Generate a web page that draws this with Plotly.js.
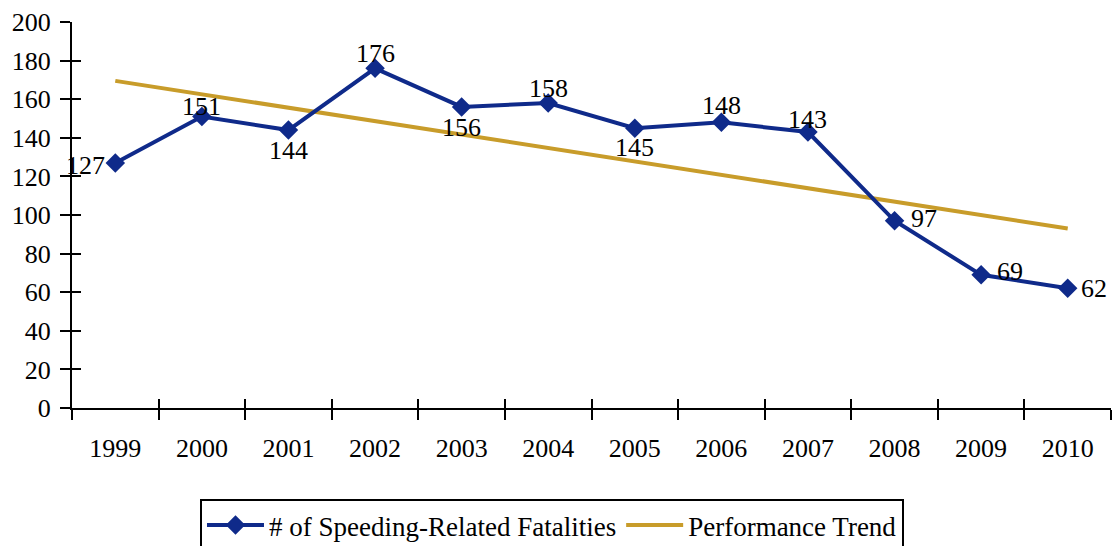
<!DOCTYPE html>
<html>
<head>
<meta charset="utf-8">
<script src="https://cdn.plot.ly/plotly-3.0.1.min.js"></script>
<style>html,body{margin:0;padding:0;background:#fff;}#chart{width:1114px;height:546px;}</style>
</head>
<body>
<div id="chart"></div>
<script>
var years = ["1999","2000","2001","2002","2003","2004","2005","2006","2007","2008","2009","2010"];
var fatalities = [127,151,144,176,156,158,145,148,143,97,69,62];
var trendYears = ["1999","2010"];
var trendValues = [169.5, 93];
var yTicks = [0,20,40,60,80,100,120,140,160,180,200];

// label placement (style only)
var labelXAnchor = ["right","center","center","center","center","center","center","center","center","left","left","left"];
var labelYAnchor = ["middle","bottom","top","bottom","top","bottom","top","bottom","bottom","middle","middle","middle"];
var labelXShift  = [-8,0,0,0,0,0,0,0,0,14,14,11];
var labelYShift  = [-3,-6,-4,-2,-4,-2,-3,0,-4,2,3,0];

var FONT = "Liberation Serif";
var FS = 26;
var BLUE = "#0f2a8a";
var GOLD = "#c89c2a";

var trendTrace = {
  x: trendYears, y: trendValues, type: "scatter", mode: "lines",
  name: "Performance Trend",
  line: {color: GOLD, width: 4},
  hoverinfo: "skip"
};
var dataTrace = {
  x: years, y: fatalities, type: "scatter", mode: "lines+markers",
  name: "# of Speeding-Related Fatalities",
  line: {color: BLUE, width: 4},
  marker: {symbol: "diamond", size: 15, color: BLUE},
  cliponaxis: false, hoverinfo: "skip"
};
var tickTrace = {
  x: years, y: years.map(function(){return null;}), type: "scatter", mode: "lines",
  xaxis: "x2", yaxis: "y2", showlegend: false, hoverinfo: "skip"
};

// category axis: annotation x given as the category index
var annotations = years.map(function(yr, i){
  return {
    x: years.indexOf(yr), y: fatalities[i], xref: "x", yref: "y",
    text: String(fatalities[i]), showarrow: false,
    xanchor: labelXAnchor[i], yanchor: labelYAnchor[i],
    xshift: labelXShift[i], yshift: labelYShift[i],
    font: {family: FONT, size: FS, color: "#000"}
  };
});

var layout = {
  width: 1114, height: 546,
  margin: {l: 72, r: 3, t: 22, b: 138},
  paper_bgcolor: "#fff", plot_bgcolor: "#fff",
  font: {family: FONT, size: FS, color: "#000"},
  showlegend: true,
  annotations: annotations,
  legend: {
    orientation: "h", xref: "container", yref: "container",
    x: 0.4955, xanchor: "center", y: 0.086, yanchor: "top",
    bordercolor: "#000", borderwidth: 2,
    font: {family: FONT, size: 27, color: "#000"},
    traceorder: "reversed", itemwidth: 57
  },
  xaxis: {
    type: "category", categoryorder: "array", categoryarray: years, range: [-0.5, 11.5],
    showline: true, linecolor: "#000", linewidth: 2,
    ticks: "outside", ticklen: 10, tickwidth: 2, tickcolor: "#000",
    tickson: "boundaries", showgrid: false, zeroline: false,
    ticklabelstandoff: 16, tickfont: {family: FONT, size: FS, color: "#000"}
  },
  yaxis: {
    range: [0, 200], tickvals: yTicks, ticktext: yTicks.map(String),
    showline: true, linecolor: "#000", linewidth: 2,
    ticks: "outside", ticklen: 10, tickwidth: 2, tickcolor: "#000",
    showgrid: false, zeroline: false,
    ticklabelstandoff: 4, tickfont: {family: FONT, size: FS, color: "#000"}
  },
  xaxis2: {
    type: "category", categoryorder: "array", categoryarray: years, range: [-0.5, 11.5],
    overlaying: "x", anchor: "y2",
    ticks: "inside", ticklen: 9, tickwidth: 2, tickcolor: "#000",
    tickson: "boundaries", showticklabels: false, showgrid: false, zeroline: false, showline: false
  },
  yaxis2: {
    range: [0, 200], tickvals: yTicks, overlaying: "y", anchor: "x2",
    ticks: "inside", ticklen: 9, tickwidth: 2, tickcolor: "#000",
    showticklabels: false, showgrid: false, zeroline: false, showline: false
  }
};

Plotly.newPlot("chart", [trendTrace, dataTrace, tickTrace], layout, {staticPlot: true, displayModeBar: false});
</script>
</body>
</html>
